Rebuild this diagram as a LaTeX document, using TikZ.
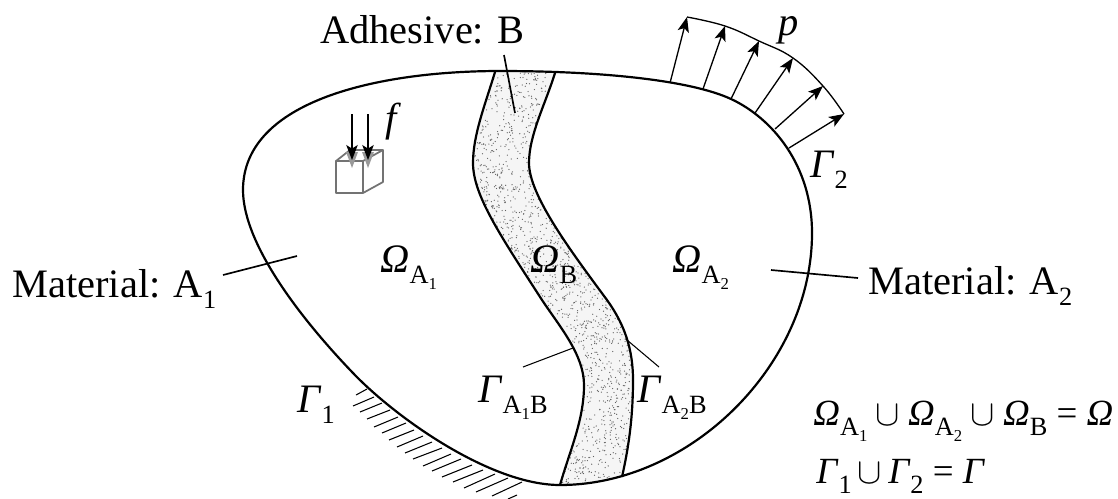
\documentclass[tikz,border=0pt]{standalone}
\usepackage{fontspec}
\setmainfont{Liberation Serif}
\usetikzlibrary{arrows.meta}
\newcommand{\Om}{\textit{Ω}}
\newcommand{\Ga}{\textit{Γ}}
\newcommand{\sbA}[1]{\raisebox{-.28em}{\fontsize{15}{16}\selectfont #1}}
\newcommand{\ssbA}[1]{\raisebox{-.28em}{\fontsize{15}{16}\selectfont A\raisebox{-.22em}{\fontsize{9.5}{10}\selectfont #1}}}
\tikzset{
    label text/.style={anchor=base west, inner sep=0pt, font=\fontsize{23}{26}\selectfont},
    eq text/.style={anchor=base west, inner sep=0pt, font=\fontsize{21}{24}\selectfont},
    outline/.style={line width=1.25pt},
    leader/.style={line width=.95pt},
    thin leader/.style={line width=.6pt},
    hatch/.style={line width=.6pt},
    load/.style={->, line width=.75pt},
    cube/.style={line width=1pt, draw=black!55, line join=round}
}
% outer contour and the two edges of the adhesive band
\def\bodypath{(500,71) .. controls (380,71) and (243,100) .. (243,190) .. controls (243,245) and (303,321) .. (353,373) .. controls (395,417) and (490,485) .. (560,485) .. controls (690,485) and (812,365) .. (812,233) .. controls (812,165) and (772,118) .. (731,99) .. controls (690,80) and (600,71) .. (500,71) -- cycle}
\def\edgeleft{(495,72) .. controls (485,105) and (473,135) .. (473,163) .. controls (473,195) and (500,235) .. (542,300) .. controls (560,327) and (584,355) .. (584,385) .. controls (584,420) and (570,450) .. (560,485)}
\def\edgeright{(555,73) .. controls (545,105) and (529,135) .. (529,163) .. controls (529,195) and (570,250) .. (607,300) .. controls (625,325) and (633,350) .. (633,380) .. controls (633,420) and (628,450) .. (622,477)}
\begin{document}
\begin{tikzpicture}[x=0.02cm, y=-0.02cm, >={Stealth[length=8.5pt, width=6.5pt, inset=2pt]}]
    \useasboundingbox (0,0) rectangle (1118,498);
    \pgfmathsetseed{4711}

    % Adhesive band
    \begin{scope}
        \clip \bodypath;
        \clip (495,60) -- \edgeleft -- (560,498) -- (622,498) -- (622,477) .. controls (628,450) and (633,420) .. (633,380) .. controls (633,350) and (625,325) .. (607,300) .. controls (570,250) and (529,195) .. (529,163) .. controls (529,135) and (545,105) .. (555,73) -- (555,60) -- cycle;
        \fill[black!4] (460,60) rectangle (650,498);
        \foreach \i in {1,...,3800}
            \fill[black!62] ({465+175*rnd},{65+425*rnd}) circle (.36pt);
    \end{scope}
    \draw[outline] \edgeleft;
    \draw[outline] \edgeright;
    \draw[outline] \bodypath;

    % Support
    \begin{scope}
        \clip (340,380) rectangle (540,498);
        \foreach \xa/\ya/\xb/\yb in {367/389/356/395, 374/397/353/406, 382/403/360/412, 390/410/367/419,
            398/417/374/427, 406/423/382/433, 414/430/389/440, 423/436/397/447, 432/442/405/453,
            442/448/413/459, 451/454/423/466, 461/459/432/471, 472/465/442/477, 483/470/453/482,
            495/474/464/488, 508/478/476/492, 522/482/492/496, 517/495/508/499}
            \draw[hatch] (\xa,\ya) -- (\xb,\yb);
    \end{scope}

    % Pressure p
    \draw[line width=.75pt] plot[smooth, tension=.7] coordinates {(687,17) (725,26) (759,41) (793,58) (823,86) (844,114)};
    \foreach \xa/\ya/\xb/\yb in {670/83/687/17, 703/89/725/26, 731/99/759/41, 755/113/793/58, 775/129/823/86, 789/148/844/114}
        \draw[load] (\xa,\ya) -- (\xb,\yb);

    % Cube with body force f
    \draw[cube] (336,161) rectangle (363,193);
    \draw[cube] (336,161) -- (350,150) -- (383,150) -- (363,161);
    \draw[cube] (383,150) -- (383,182) -- (363,193);
    \fill[black!40] (346,152) -- (358,152) -- (352,168) -- cycle;
    \fill[black!40] (362,152) -- (374,152) -- (368,168) -- cycle;
    \draw[load] (352,114) -- (352,160);
    \draw[load] (368,114) -- (368,160);

    % Labels
    \node[label text] (adhesive) at (320,43) {Adhesive: B};
    \node[label text] (matone) at (12,297) {Material: A\sbA{1}};
    \node[label text] (mattwo) at (868,294) {Material: A\sbA{2}};
    \node[label text] (pload) at (778,35) {\textit{p}};
    \node[label text] (fload) at (385,131) {\textit{f}};
    \node[label text] (gammaone) at (297,412) {\Ga\sbA{1}};
    \node[label text] (gammatwo) at (810,177) {\Ga\sbA{2}};
    \node[label text] (omegaone) at (380,272) {\Om\ssbA{1}};
    \node[label text] (omegatwo) at (672,272) {\Om\ssbA{2}};
    \node[label text] (omegab) at (530,272) {\Om\sbA{B}};
    \node[label text] (gammaab) at (478,402) {\Ga\sbA{A\raisebox{-.22em}{\fontsize{9.5}{10}\selectfont 1}B}};
    \node[label text] (gammabb) at (637,402) {\Ga\sbA{A\raisebox{-.22em}{\fontsize{9.5}{10}\selectfont 2}B}};
    \node[eq text] (eqomega) at (813,425) {\Om\ssbA{1}\hspace{4.7pt}$\cup$\hspace{4.7pt}\Om\ssbA{2}\hspace{4.7pt}$\cup$\hspace{4.7pt}\Om\sbA{B} = \Om};
    \node[eq text] (eqgamma) at (816,483) {\Ga\sbA{1}\,$\cup$\,\Ga\sbA{2} = \Ga};

    % Leaders
    \coordinate (adhesive end) at (504,55);
    \coordinate (band pt) at (515,113);
    \draw[leader] (adhesive end) -- (band pt);
    \coordinate (matone end) at (223,275);
    \coordinate (regone pt) at (297,256);
    \draw[leader] (matone end) -- (regone pt);
    \coordinate (mattwo end) at (858,278);
    \coordinate (regtwo pt) at (771,270);
    \draw[leader] (mattwo end) -- (regtwo pt);
    \coordinate (gammaab end) at (523,367);
    \coordinate (edgeone pt) at (573,348);
    \draw[thin leader] (gammaab end) -- (edgeone pt);
    \coordinate (gammabb end) at (659,367);
    \coordinate (edgetwo pt) at (627,340);
    \draw[thin leader] (gammabb end) -- (edgetwo pt);
\end{tikzpicture}
\end{document}
